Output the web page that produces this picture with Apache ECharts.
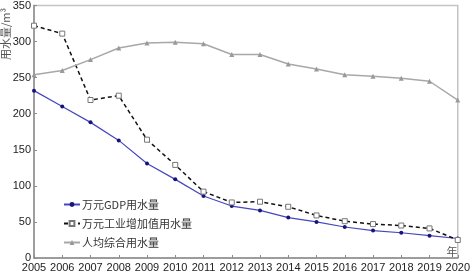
<!DOCTYPE html>
<html lang="zh-CN">
<head>
    <meta charset="UTF-8">
    <script src="https://cdn.jsdelivr.net/npm/echarts@6/dist/echarts.min.js"></script>
    <style>
        html, body { margin: 0; padding: 0; background: #fff; }
        #chart { width: 473px; height: 274px; }
    </style>
</head>
<body>
    <div id="chart"></div>
    <script>
        // 年份
        const years = ['2005', '2006', '2007', '2008', '2009', '2010', '2011', '2012',
                       '2013', '2014', '2015', '2016', '2017', '2018', '2019', '2020'];
        // 万元GDP用水量
        const gdpWater = [232, 210, 188, 163, 131, 109, 86, 72, 66, 56, 50, 43, 38, 35, 31, 27];
        // 万元工业增加值用水量
        const industryWater = [322, 311, 219, 225, 164, 129, 92, 77, 78, 71, 59, 51, 47, 45, 41, 25];
        // 人均综合用水量
        const perCapitaWater = [254, 260, 275, 291, 298, 299, 297, 282, 282, 269, 262, 254, 252, 249, 245, 219];

        const font = '"Noto Sans CJK SC", "Noto Sans", sans-serif';
        const numFont = '"Liberation Sans", sans-serif';
        const chart = echarts.init(document.getElementById('chart'));

        chart.setOption({
            animation: false,
            textStyle: { fontFamily: font },
            grid: {
                left: 34, right: 10, top: 4, bottom: 16,
                show: true, borderColor: '#c4c4c4', borderWidth: 1.5
            },
            legend: {
                orient: 'vertical',
                left: 58, top: 194,
                itemGap: 8,
                itemWidth: 16, itemHeight: 6,
                textStyle: { fontSize: 11, color: '#333', padding: [0, 0, 0, -3] },
                data: ['万元GDP用水量', '万元工业增加值用水量', '人均综合用水量']
            },
            xAxis: {
                type: 'category',
                data: years,
                boundaryGap: false,
                axisLine: { lineStyle: { color: '#8c8c8c', width: 1.5 } },
                axisTick: { inside: true, length: 3, lineStyle: { color: '#8c8c8c' } },
                axisLabel: { interval: 0, fontSize: 11, color: '#222', margin: 4, fontFamily: numFont }
            },
            yAxis: {
                type: 'value',
                min: 0, max: 350, interval: 50,
                splitLine: { show: false },
                axisLine: { show: true, lineStyle: { color: '#8c8c8c', width: 1.5 } },
                axisTick: { show: true, inside: true, length: 3, lineStyle: { color: '#8c8c8c' } },
                axisLabel: { fontSize: 11, color: '#222', margin: 3, fontFamily: numFont }
            },
            graphic: [
                {
                    type: 'text', x: 6, y: 34, rotation: Math.PI / 2,
                    style: { text: '用水量/m³', fontSize: 11, fill: '#555', fontFamily: font,
                             align: 'center', verticalAlign: 'middle' }
                },
                {
                    type: 'text', x: 452, y: 252,
                    style: { text: '年', fontSize: 11, fill: '#555', fontFamily: font,
                             align: 'center', verticalAlign: 'middle' }
                }
            ],
            series: [
                {
                    name: '万元GDP用水量',
                    type: 'line',
                    data: gdpWater,
                    symbol: 'circle', symbolSize: 4,
                    lineStyle: { color: '#4646c0', width: 1.2 },
                    itemStyle: { color: '#14147a' }
                },
                {
                    name: '万元工业增加值用水量',
                    type: 'line',
                    data: industryWater,
                    symbol: 'rect', symbolSize: 5,
                    lineStyle: { color: '#111', width: 1.5, type: [4, 3] },
                    itemStyle: { color: '#fff', borderColor: '#777', borderWidth: 1 }
                },
                {
                    name: '人均综合用水量',
                    type: 'line',
                    data: perCapitaWater,
                    symbol: 'triangle', symbolSize: 5,
                    lineStyle: { color: '#a8a8a8', width: 1.5 },
                    itemStyle: { color: '#999' }
                }
            ]
        });
    </script>
</body>
</html>
